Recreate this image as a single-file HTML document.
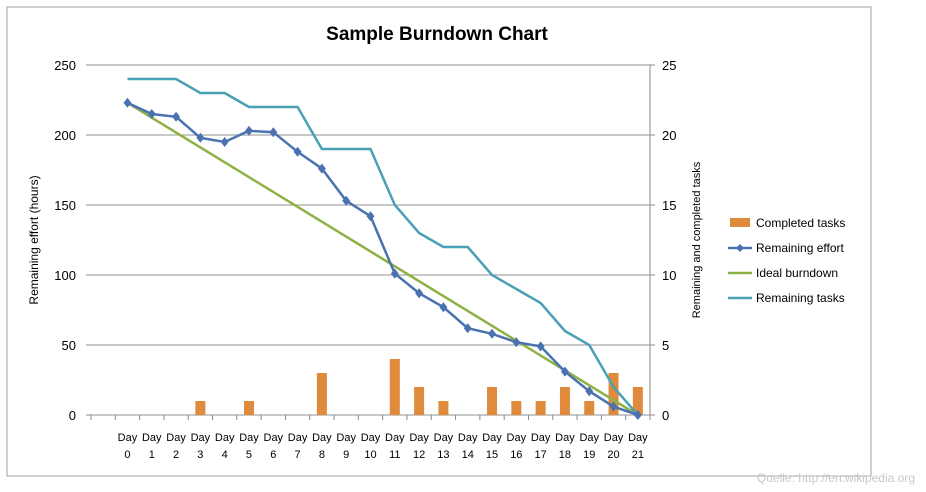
<!DOCTYPE html>
<html><head><meta charset="utf-8"><style>
body{margin:0;background:#fff;width:926px;height:492px;overflow:hidden}
svg{display:block;font-family:"Liberation Sans",sans-serif}
</style></head><body>
<svg id="s" width="926" height="492" xmlns="http://www.w3.org/2000/svg">
<rect x="7" y="7" width="864" height="469" fill="#fff" stroke="#a0a0a0" stroke-width="1"/>
<text x="437" y="40" text-anchor="middle" font-size="19" font-weight="bold" fill="#000">Sample Burndown Chart</text>
<g id="g"></g>
<text transform="translate(38,240) rotate(-90)" text-anchor="middle" font-size="12">Remaining effort (hours)</text>
<text transform="translate(700,240) rotate(-90)" text-anchor="middle" font-size="11">Remaining and completed tasks</text>
<rect x="730" y="218" width="20" height="9" fill="#e08a3c"/>
<text x="756" y="227" font-size="12">Completed tasks</text>
<line x1="728" y1="248" x2="752" y2="248" stroke="#4a72b0" stroke-width="2.5"/>
<path d="M740 244 L744 248 L740 252 L736 248Z" fill="#4a72b0"/>
<text x="756" y="252" font-size="12">Remaining effort</text>
<line x1="728" y1="273" x2="752" y2="273" stroke="#8db144" stroke-width="2.5"/>
<text x="756" y="277" font-size="12">Ideal burndown</text>
<line x1="728" y1="298" x2="752" y2="298" stroke="#4aa0b5" stroke-width="2.5"/>
<text x="756" y="302" font-size="12">Remaining tasks</text>
<text x="915" y="482" text-anchor="end" font-size="12" fill="#c8c8c8">Quelle: http://en.wikipedia.org</text>
</svg>
<script>
var g=document.getElementById('g'),h='';
var L=91,R=650,T=65,B=415;
for(var v=0;v<=250;v+=50){var y=B-v*1.4;
 h+='<line x1="'+L+'" y1="'+y+'" x2="'+R+'" y2="'+y+'" stroke="#a8a8a8" stroke-width="1.3"/>';
 h+='<line x1="'+(L-5)+'" y1="'+y+'" x2="'+L+'" y2="'+y+'" stroke="#888"/>';
 h+='<line x1="'+R+'" y1="'+y+'" x2="'+(R+5)+'" y2="'+y+'" stroke="#888"/>';
 h+='<text x="76" y="'+(y+5)+'" text-anchor="end" font-size="13">'+v+'</text>';
 h+='<text x="662" y="'+(y+5)+'" font-size="13">'+(v/10)+'</text>';}
h+='<line x1="'+R+'" y1="'+T+'" x2="'+R+'" y2="'+B+'" stroke="#888"/>';
var sp=(R-L)/23;
for(var i=0;i<=23;i++){var x=L+i*sp;h+='<line x1="'+x+'" y1="'+B+'" x2="'+x+'" y2="'+(B+5)+'" stroke="#888"/>';}
var eff=[223,215,213,198,195,203,202,188,176,153,142,101,87,77,62,58,52,49,31,17,6,0];
var tk=[24,24,24,23,23,22,22,22,19,19,19,15,13,12,12,10,9,8,6,5,2,0];
var cp=[0,0,0,1,0,1,0,0,3,0,0,4,2,1,0,2,1,1,2,1,3,2];
function X(i){return L+sp*(i+1.5);}
for(var i=0;i<22;i++){var x=X(i);
 if(cp[i])h+='<rect x="'+(x-5)+'" y="'+(B-cp[i]*14)+'" width="10" height="'+(cp[i]*14)+'" fill="#e08a3c"/>';
 h+='<text x="'+x+'" y="441" text-anchor="middle" font-size="11">Day</text><text x="'+x+'" y="458" text-anchor="middle" font-size="11">'+i+'</text>';}
h+='<line x1="'+X(0)+'" y1="'+(B-223*1.4)+'" x2="'+X(21)+'" y2="'+B+'" stroke="#8db144" stroke-width="2.5"/>';
var p1='',p2='';for(var i=0;i<22;i++){p1+=X(i)+','+(B-tk[i]*14)+' ';p2+=X(i)+','+(B-eff[i]*1.4)+' ';}
h+='<polyline points="'+p1+'" fill="none" stroke="#4aa0b5" stroke-width="2.5"/>';
h+='<polyline points="'+p2+'" fill="none" stroke="#4a72b0" stroke-width="2.5"/>';
for(var i=0;i<22;i++){var x=X(i),y=B-eff[i]*1.4;h+='<path d="M'+x+' '+(y-5)+' L'+(x+4)+' '+y+' L'+x+' '+(y+5)+' L'+(x-4)+' '+y+'Z" fill="#4a72b0"/>';}
g.innerHTML=h;
</script>
</body></html>
